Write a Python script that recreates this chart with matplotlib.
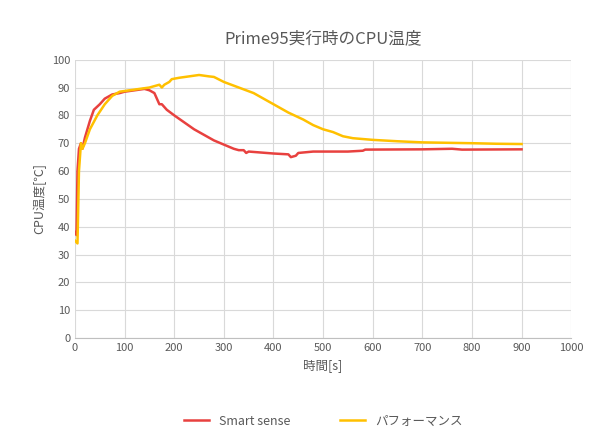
import matplotlib.pyplot as plt
import matplotlib as mpl

mpl.rcParams['font.family'] = ['Noto Sans CJK JP']

t_smart = [0, 3, 5, 8, 12, 15, 20, 30, 38, 50, 60, 75, 90, 100, 120, 140, 150, 160, 165, 170, 175,
           185, 200, 220, 240, 260, 280, 300, 320, 330, 340, 345, 350, 400, 430, 435, 445, 450,
           480, 550, 580, 585, 700, 760, 780, 900]
smart = [38, 37, 60, 68, 70, 68, 72, 78, 82, 84, 86, 87.5, 88, 88.5, 89, 89.5, 89, 88, 86, 84, 84,
         82, 80, 77.5, 75, 73, 71, 69.5, 68, 67.5, 67.5, 66.5, 67, 66.3, 66, 65, 65.5, 66.5,
         67, 67, 67.3, 67.7, 67.8, 68, 67.7, 67.8]

t_perf = [0, 5, 8, 12, 15, 20, 30, 45, 60, 75, 90, 110, 130, 150, 160, 170, 175, 180, 190, 195,
          210, 230, 250, 270, 280, 300, 330, 360, 380, 400, 430, 460, 480, 500, 520, 540, 560,
          600, 650, 700, 800, 850, 900]
perf = [35, 34, 60, 70, 68, 70, 75, 80, 84, 87, 88.5, 89, 89.5, 90, 90.5, 91, 90, 91, 92, 93,
        93.5, 94, 94.5, 94, 93.8, 92, 90, 88, 86, 84, 81, 78.5, 76.5, 75, 74, 72.5, 71.8,
        71.2, 70.7, 70.3, 70, 69.8, 69.7]

fig, ax = plt.subplots(figsize=(6, 4.42), dpi=100)
fig.subplots_adjust(left=0.125, right=0.952, top=0.865, bottom=0.235)
ax.plot(t_smart, smart, color='#E8413F', lw=1.8, label='Smart sense')
ax.plot(t_perf, perf, color='#FFC000', lw=1.8, label='パフォーマンス')
ax.set_xlim(0, 1000)
ax.set_ylim(0, 100)
ax.set_xticks(range(0, 1001, 100))
ax.set_yticks(range(0, 101, 10))
ax.grid(color='#D9D9D9', lw=0.8)
ax.set_axisbelow(True)
for s in ['top', 'right', 'left']:
    ax.spines[s].set_visible(False)
ax.spines['bottom'].set_color('#BFBFBF')
ax.tick_params(length=0, labelsize=8, colors='#595959')
ax.set_title('Prime95実行時のCPU温度', fontsize=12, color='#595959', pad=12)
ax.set_xlabel('時間[s]', fontsize=9, color='#595959')
ax.set_ylabel('CPU温度[℃]', fontsize=9, color='#595959')
ax.legend(loc='upper center', bbox_to_anchor=(0.5, -0.235), ncol=2, frameon=False,
          fontsize=9, labelcolor='#595959', columnspacing=4)
fig.savefig('out.png')
